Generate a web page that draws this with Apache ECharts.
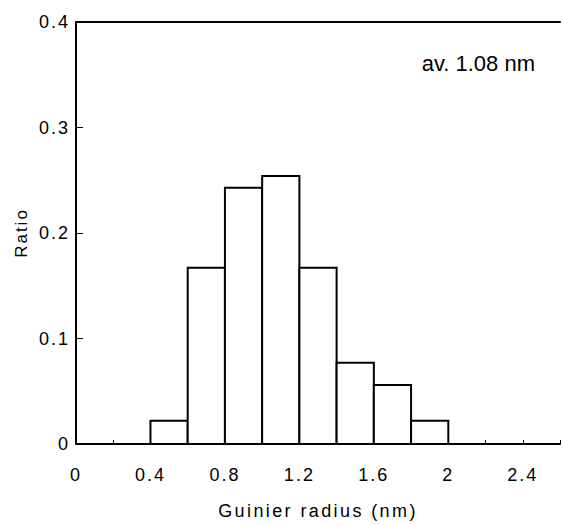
<!DOCTYPE html>
<html>
<head>
<meta charset="utf-8">
<script src="https://cdn.jsdelivr.net/npm/echarts@6/dist/echarts.min.js"></script>
<style>
  html, body { margin: 0; padding: 0; background: #fff; }
  #chart { width: 563px; height: 525px; }
</style>
</head>
<body>
<div id="chart"></div>
<script>
// histogram bins (nm) and ratio per bin
var binStart = [0.4, 0.6, 0.8, 1.0, 1.2, 1.4, 1.6, 1.8];
var binWidth = 0.2;
var ratio = [0.022, 0.167, 0.243, 0.254, 0.167, 0.077, 0.056, 0.022];
var yTicks = [0, 0.1, 0.2, 0.3, 0.4];
var note = "av. 1.08 nm";

var font = "Liberation Sans, Arial, sans-serif";

// svg renderer so the axis texts can get letter spacing like the original
var chart = echarts.init(document.getElementById("chart"), null, { renderer: "svg" });

var bins = binStart.map(function (s, i) {
  return [s, s + binWidth, ratio[i]];
});

chart.setOption({
  animation: false,
  grid: { left: 76, right: 0, top: 22, bottom: 80 },
  graphic: [{
    type: "text",
    right: 28,
    top: 52,
    style: { text: note, font: "22px " + font, fill: "#000" }
  }],
  xAxis: [{
    type: "value",
    min: 0,
    max: 2.6,
    interval: 0.2,
    name: "Guinier radius (nm)",
    nameLocation: "middle",
    nameGap: 58,
    nameTextStyle: { fontFamily: font, fontSize: 18, color: "#000" },
    axisLine: { show: true, onZero: false, lineStyle: { color: "#000", width: 2 } },
    axisTick: { show: true, inside: true, length: 4, lineStyle: { color: "#000", width: 1 } },
    axisLabel: {
      margin: 22,
      fontFamily: font, fontSize: 18, color: "#000",
      formatter: function (v) {
        var k = Math.round(v * 10);
        if (k % 4 !== 0) return "";
        return String(+v.toFixed(1));
      }
    },
    splitLine: { show: false }
  }, {
    type: "value",
    position: "top",
    min: 0,
    max: 2.6,
    axisLine: { show: true, onZero: false, lineStyle: { color: "#000", width: 2 } },
    axisTick: { show: false },
    axisLabel: { show: false },
    splitLine: { show: false }
  }],
  yAxis: {
    type: "value",
    min: 0,
    max: 0.4,
    interval: 0.1,
    name: "Ratio",
    nameLocation: "middle",
    nameGap: 46,
    nameTextStyle: { fontFamily: font, fontSize: 17, color: "#000" },
    axisLine: { show: true, lineStyle: { color: "#000", width: 2 } },
    axisTick: { show: true, inside: true, length: 7, lineStyle: { color: "#000", width: 1 } },
    axisLabel: {
      margin: 6,
      fontFamily: font, fontSize: 18, color: "#000",
      formatter: function (v) {
        return yTicks.indexOf(+v.toFixed(1)) >= 0 ? String(+v.toFixed(1)) : "";
      }
    },
    splitLine: { show: false }
  },
  series: [{
    type: "custom",
    xAxisIndex: 0,
    data: bins,
    renderItem: function (params, api) {
      var p0 = api.coord([api.value(0), api.value(2)]);
      var p1 = api.coord([api.value(1), 0]);
      return {
        type: "rect",
        shape: { x: p0[0], y: p0[1], width: p1[0] - p0[0], height: p1[1] - p0[1] },
        style: { fill: "#fff", stroke: "#000", lineWidth: 2 }
      };
    },
    encode: { x: [0, 1], y: 2 }
  }]
});

// spaced-out lettering on the axis texts (not on the note)
var spacing = function () {
  var texts = document.querySelectorAll("#chart svg text");
  texts.forEach(function (t) {
    var s = t.textContent;
    if (s === note) return;
    if (s === "Guinier radius (nm)") t.setAttribute("letter-spacing", "2.4");
    else t.setAttribute("letter-spacing", "2");
  });
};
chart.on("finished", spacing);
spacing();
</script>
</body>
</html>
